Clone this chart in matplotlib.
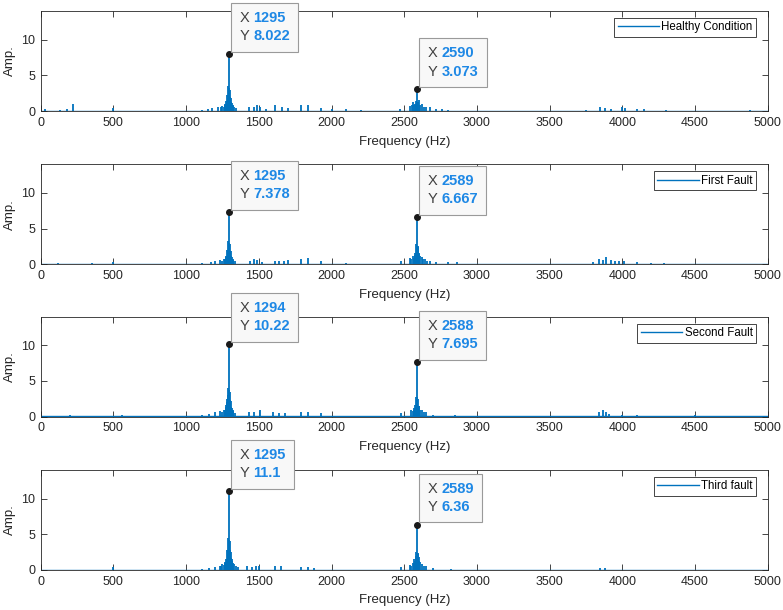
import matplotlib
matplotlib.use("Agg")
import matplotlib.pyplot as plt
from matplotlib.offsetbox import TextArea, HPacker, VPacker, AnnotationBbox

plt.rcParams['font.family'] = ['Liberation Sans', 'DejaVu Sans']

# ---------------- data ----------------
labels = ["Healthy Condition", "First Fault", "Second Fault", "Third fault"]

freq_healthy = [30, 130, 180, 225, 500, 1110, 1150, 1180, 1220, 1240, 1250, 1258, 1265, 1270,
                1275, 1280, 1283, 1287, 1290, 1292, 1295, 1298, 1300, 1303, 1307, 1311, 1315,
                1320, 1325, 1332, 1340, 1430, 1470, 1490, 1510, 1550, 1610, 1660,
                1700, 1790, 1840, 1930, 2000, 2100, 2200, 2470, 2540, 2552, 2560, 2568, 2575,
                2580, 2583, 2587, 2590, 2594, 2600, 2610, 2620, 2635, 2650, 2680, 2720, 2760,
                2800, 3750, 3850, 3880, 3920, 4000, 4020, 4100, 4150, 4300, 4880]
amp_healthy = [0.3, 0.2, 0.3, 1.0, 0.4, 0.2, 0.3, 0.4, 0.6, 0.5, 0.7, 0.6, 1.0, 0.8,
               1.4, 1.2, 2.2, 1.8, 3.5, 2.6, 8.022, 3.2, 3.0, 2.0, 1.8, 1.2, 1.1,
               0.8, 0.7, 0.5, 0.4, 0.5, 0.6, 0.9, 0.6, 0.3, 0.8, 0.6,
               0.4, 0.9, 0.9, 0.4, 0.3, 0.3, 0.2, 0.3, 0.7, 0.9, 1.2, 0.8, 1.0,
               0.9, 1.4, 1.2, 3.073, 1.3, 1.5, 0.9, 1.0, 0.6, 0.6, 0.5, 0.3, 0.3,
               0.2, 0.2, 0.6, 0.4, 0.3, 0.5, 0.4, 0.3, 0.3, 0.2, 0.2]

freq_first = [120, 350, 500, 1110, 1170, 1200, 1230, 1245, 1260, 1266, 1272, 1277, 1282, 1286,
              1290, 1293, 1295, 1298, 1300, 1304, 1307, 1311, 1315, 1320, 1325, 1335, 1440,
              1470, 1490, 1520, 1610, 1640, 1670, 1700, 1790, 1840, 1930, 2100, 2480, 2540,
              2550, 2560, 2566, 2572, 2577, 2582, 2586, 2589, 2592, 2596, 2600, 2605, 2612,
              2620, 2630, 2640, 2660, 2680, 2720, 2800, 2860, 3800, 3840, 3870, 3890, 3920,
              3950, 3980, 4010, 4100, 4200, 4290]
amp_first = [0.2, 0.2, 0.3, 0.2, 0.3, 0.5, 0.6, 0.5, 0.8, 0.7, 1.2, 1.0, 2.0, 1.6,
             3.2, 2.4, 7.378, 3.0, 2.8, 1.9, 1.8, 1.2, 1.0, 0.8, 0.6, 0.4, 0.5,
             0.7, 0.6, 0.3, 0.5, 0.5, 0.5, 0.6, 0.7, 0.9, 0.5, 0.2, 0.4, 0.9,
             0.7, 1.1, 0.9, 1.6, 1.3, 2.8, 2.2, 6.667, 2.6, 2.4, 1.6, 1.4, 1.1,
             1.0, 0.7, 0.7, 0.5, 0.5, 0.3, 0.3, 0.3, 0.3, 0.8, 0.6, 1.0, 0.6,
             0.4, 0.4, 0.5, 0.3, 0.2, 0.2]

freq_second = [200, 560, 1110, 1160, 1200, 1230, 1245, 1260, 1266, 1272, 1277, 1280, 1284,
               1288, 1291, 1294, 1297, 1300, 1303, 1307, 1311, 1315, 1320, 1325, 1335, 1430,
               1470, 1510, 1600, 1640, 1680, 1790, 1840, 1930, 2480, 2550, 2558, 2565, 2570,
               2575, 2579, 2582, 2585, 2588, 2591, 2595, 2600, 2604, 2612, 2620, 2635, 2650,
               2700, 2850, 3840, 3870, 3890, 3910, 4000, 4100, 4500]
amp_second = [0.2, 0.2, 0.2, 0.4, 0.6, 0.8, 0.7, 1.0, 0.9, 1.6, 1.3, 2.5, 2.0,
              4.0, 3.0, 10.22, 3.8, 3.5, 2.4, 2.2, 1.4, 1.2, 0.9, 0.8, 0.5, 0.6,
              0.7, 0.9, 0.6, 0.5, 0.5, 0.7, 0.7, 0.5, 0.5, 0.9, 0.8, 1.2, 1.0,
              1.6, 1.4, 2.8, 2.2, 7.695, 2.7, 2.5, 1.5, 1.5, 1.0, 0.9, 0.7, 0.6,
              0.3, 0.3, 0.7, 0.9, 0.6, 0.4, 0.3, 0.2, 0.2]

freq_third = [500, 1110, 1160, 1200, 1230, 1240, 1250, 1258, 1265, 1270, 1275, 1280, 1283,
              1287, 1290, 1293, 1295, 1297, 1300, 1303, 1306, 1310, 1313, 1318, 1322, 1330,
              1340, 1360, 1420, 1450, 1480, 1500, 1610, 1650, 1790, 1840, 1880, 2480, 2540,
              2550, 2560, 2566, 2570, 2575, 2580, 2584, 2589, 2592, 2596, 2600, 2605, 2612,
              2620, 2635, 2650, 2700, 2820, 3850, 3880]
amp_third = [0.4, 0.2, 0.3, 0.4, 0.6, 0.5, 0.8, 0.7, 1.1, 1.0, 1.6, 1.4, 2.8,
             2.3, 4.5, 3.4, 11.1, 4.2, 4.0, 2.8, 2.5, 1.7, 1.5, 1.2, 1.0, 0.8,
             0.6, 0.4, 0.5, 0.4, 0.5, 0.5, 0.5, 0.5, 0.4, 0.4, 0.3, 0.4, 0.7,
             0.6, 1.0, 0.9, 1.5, 1.3, 2.5, 2.0, 6.36, 2.4, 2.2, 1.8, 1.3, 1.1,
             0.9, 0.6, 0.5, 0.3, 0.2, 0.3, 0.3]

freqs = [freq_healthy, freq_first, freq_second, freq_third]
amps = [amp_healthy, amp_first, amp_second, amp_third]

# data tips: (x, y) of marked peaks per panel
tips = [[(1295, 8.022), (2590, 3.073)],
        [(1295, 7.378), (2589, 6.667)],
        [(1294, 10.22), (2588, 7.695)],
        [(1295, 11.1), (2589, 6.36)]]
tip_text = [[("1295", "8.022"), ("2590", "3.073")],
            [("1295", "7.378"), ("2589", "6.667")],
            [("1294", "10.22"), ("2588", "7.695")],
            [("1295", "11.1"), ("2589", "6.36")]]

freq_range = [0, 5000]
noise_floor = [0.07, 0.07]
xticks = list(range(0, 5001, 500))
yticks = [0, 5, 10]
ylim = [0, 14]

# ---------------- drawing ----------------
W, H = 783, 610
fig = plt.figure(figsize=(W / 100, H / 100), dpi=100)

line_color = "#0072BD"
axis_color = "#262626"
tops = [11, 164.3, 316.7, 470]
ax_h = 100
left, right = 40.7, 767.7
tip_pad = 0.6           # fraction of 10 pt
tip_off = 1.5 + tip_pad * 10

for i in range(4):
    top = tops[i]
    ax = fig.add_axes([left / W, 1 - (top + ax_h) / H, (right - left) / W, ax_h / H])
    ax.plot(freq_range, noise_floor, color=line_color, lw=1.0)
    ax.vlines(freqs[i], 0, amps[i], color=line_color, lw=1.3)
    ax.plot([], [], color=line_color, lw=1.0, label=labels[i])
    ax.set_xlim(freq_range)
    ax.set_ylim(ylim)
    ax.set_xticks(xticks)
    ax.set_yticks(yticks)
    ax.tick_params(direction="in", top=True, right=True, length=4, width=0.6,
                   colors=axis_color, labelsize=9, pad=4)
    for s in ax.spines.values():
        s.set_color(axis_color)
        s.set_linewidth(0.6)
    ax.set_xlabel("Frequency (Hz)", fontsize=9.5, color=axis_color, labelpad=5)
    ax.set_ylabel("Amp.", fontsize=9.5, color=axis_color, labelpad=4)
    leg = ax.legend(loc="upper right", bbox_to_anchor=(0.984, 0.93), fontsize=8.3,
                    handlelength=3.6, frameon=True, fancybox=False, framealpha=1,
                    borderaxespad=0.0, borderpad=0.3, handletextpad=0.2)
    leg.get_frame().set_edgecolor(axis_color)
    leg.get_frame().set_linewidth(0.6)

    for (tx, ty), (sx, sy) in zip(tips[i], tip_text[i]):
        ax.plot([tx], [ty], "o", color="#1a1a1a", ms=4, zorder=5)
        tp_lab = dict(color="#404040", fontsize=10.5)
        tp_val = dict(color="#1e88e5", fontsize=10.5, fontweight="bold")
        row1 = HPacker(children=[TextArea("X", textprops=tp_lab), TextArea(sx, textprops=tp_val)],
                       align="baseline", pad=0, sep=3)
        row2 = HPacker(children=[TextArea("Y", textprops=tp_lab), TextArea(sy, textprops=tp_val)],
                       align="baseline", pad=0, sep=3)
        box = VPacker(children=[row1, row2], align="left", pad=0, sep=3)
        ab = AnnotationBbox(box, (tx, ty), xybox=(tip_off, tip_off), xycoords="data",
                            boxcoords="offset points", box_alignment=(0, 0),
                            frameon=True, pad=tip_pad, fontsize=10, annotation_clip=False,
                            bboxprops=dict(edgecolor="#9a9a9a", facecolor="#f8f8f8", lw=0.8))
        ab.set_zorder(6)
        ax.add_artist(ab)

fig.savefig("out.png", dpi=100)
